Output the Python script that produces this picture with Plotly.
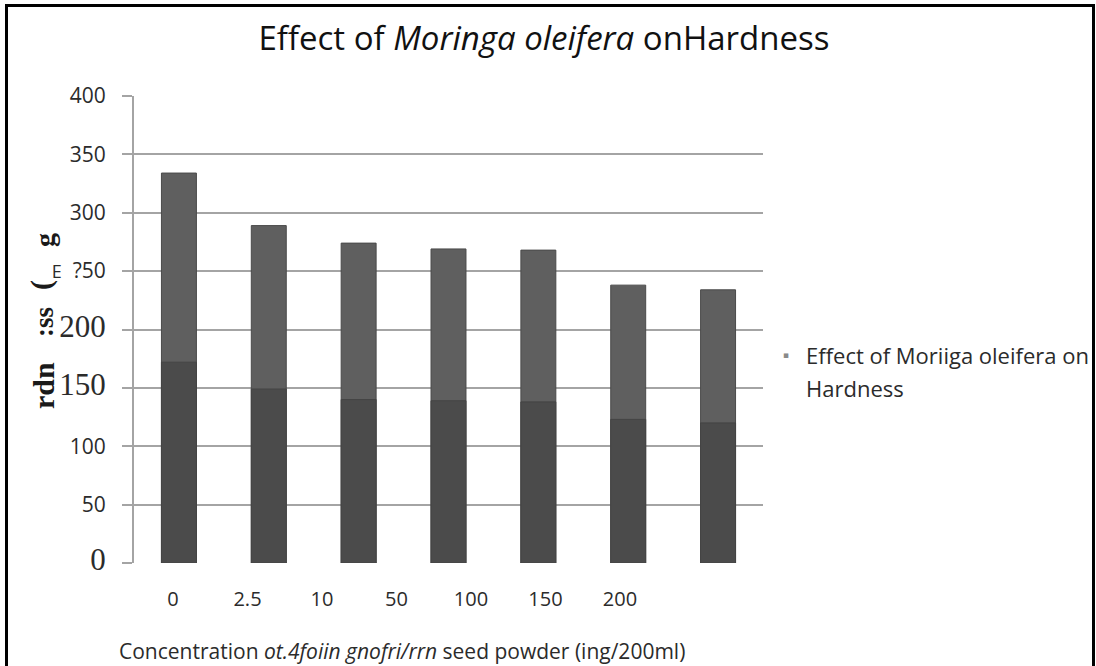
import plotly.graph_objects as go

# ---- data ----
categories = ["0", "2.5", "10", "50", "100", "150", "200"]
hardness_total = [334, 289, 274, 269, 268, 238, 234]
hardness_lower = [172, 149, 140, 139, 138, 123, 120]

y_tick_vals = [0, 50, 100, 150, 200, 250, 300, 350, 400]
SERIF = 'style="font-family:Liberation Serif;font-size:31px"'
y_tick_text = [
    f'<span {SERIF}>0</span>',
    "50",
    "100",
    f'<span {SERIF}>150</span>',
    f'<span {SERIF}>200</span>',
    '<span style="font-size:18px">E</span>  ?50',
    "300",
    "350",
    "400",
]

title_text = "Effect of <i>Moringa oleifera</i> onHardness"
x_title_text = "Concentration <i>ot.4foiin gnofri/rrn</i> seed powder (ing/200ml)"
# garbled, rotated y-axis title fragments (bottom to top)
y_title_parts = ["rdn", ":ss", "(", "g"]
legend_line1 = "Effect of Moriiga oleifera on"
legend_line2 = "Hardness"

# ---- layout geometry (pixels) ----
W, H = 1096, 666
L, R, T, B = 134, 333, 96, 103
PW, PH = W - L - R, H - T - B


def px(xp):
    return (xp - L) / PW


def py(yp):
    return (H - B - yp) / PH


GRID = "#a4a4a4"
TXT = "#2b2b2b"

fig = go.Figure()
fig.add_trace(go.Bar(
    x=categories, y=hardness_total,
    marker=dict(color="#5f5f5f", line=dict(color="#4a4a4a", width=1)),
    showlegend=False, hoverinfo="skip",
))
fig.add_trace(go.Bar(
    x=categories, y=hardness_lower,
    marker=dict(color="#4b4b4b", line=dict(color="#444444", width=1)),
    showlegend=False, hoverinfo="skip",
))
# helper trace carrying the (shifted) category label axis
fig.add_trace(go.Scatter(
    x=categories, y=[None] * len(categories), xaxis="x2", mode="markers",
    showlegend=False, hoverinfo="skip",
))

fig.update_layout(
    width=W, height=H,
    margin=dict(l=L, r=R, t=T, b=B),
    paper_bgcolor="white", plot_bgcolor="white",
    barmode="overlay", bargap=0.611,
    showlegend=False,
    font=dict(family="Open Sans", color=TXT),
    title=dict(text=title_text, x=544 / W, xref="container", xanchor="center",
               y=1 - 38 / H, yref="container", yanchor="middle",
               font=dict(family="Open Sans", size=33, color="#111111")),
    xaxis=dict(type="category", showticklabels=False, ticks="", showgrid=False,
               showline=False, zeroline=False, range=[-0.5, 6.5]),
    xaxis2=dict(type="category", overlaying="x", side="bottom", anchor="y",
                range=[(L - 173) / 74.5, (L + PW - 173) / 74.5],
                showgrid=False, showline=False, zeroline=False, ticks="",
                tickfont=dict(family="Open Sans", size=20, color=TXT),
                ticklabelstandoff=22),
    yaxis=dict(range=[0, 400], tickvals=y_tick_vals, ticktext=y_tick_text,
               showgrid=True, gridcolor=GRID, gridwidth=2,
               showline=True, linecolor=GRID, linewidth=2,
               ticks="outside", ticklen=10, tickcolor=GRID, tickwidth=2,
               zeroline=False, ticklabelstandoff=12,
               tickfont=dict(family="Open Sans", size=21, color=TXT)),
)

annotations = [
    dict(text=x_title_text, x=px(402), y=py(651), xref="paper", yref="paper",
         showarrow=False, xanchor="center", yanchor="middle",
         font=dict(family="Open Sans", size=21, color=TXT)),
    dict(text="▪", x=px(786), y=py(355), xref="paper", yref="paper",
         showarrow=False, xanchor="center", yanchor="middle",
         font=dict(family="DejaVu Sans", size=9, color="#8a8a8a")),
    dict(text=legend_line1, x=px(804), y=py(355), xref="paper", yref="paper",
         showarrow=False, xanchor="left", yanchor="middle",
         font=dict(family="Open Sans", size=22, color=TXT)),
    dict(text=legend_line2, x=px(804), y=py(388), xref="paper", yref="paper",
         showarrow=False, xanchor="left", yanchor="middle",
         font=dict(family="Open Sans", size=22, color=TXT)),
]
part_pos = [(43, 386, 30), (44, 322, 27), (41, 285, 30), (44, 240, 28)]
for part, (xp, yp, fs) in zip(y_title_parts, part_pos):
    annotations.append(dict(
        text=f"<b>{part}</b>", x=px(xp), y=py(yp), xref="paper", yref="paper",
        showarrow=False, textangle=-90, xanchor="center", yanchor="middle",
        font=dict(family="Liberation Serif", size=fs, color="#1a1a1a")))
fig.update_layout(annotations=annotations)

# outer black frame (open at the bottom, as in the scan)
x0, x1 = px(6.5), px(1093.5)
y_top, y_bot = py(5.5), py(H + 10)
fig.add_shape(type="path", xref="paper", yref="paper",
              path=f"M {x0} {y_bot} L {x0} {y_top} L {x1} {y_top} L {x1} {y_bot}",
              line=dict(color="black", width=3), layer="above")

fig.write_html("out.html", config={"displayModeBar": False},
               post_script="document.body.style.margin='0';document.body.style.overflow='hidden';")
